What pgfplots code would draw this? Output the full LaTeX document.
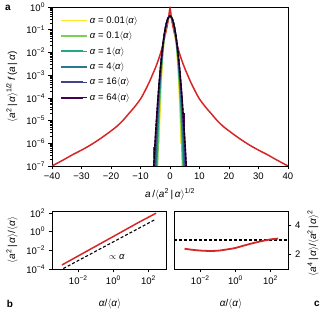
\documentclass[border=0pt]{standalone}
\usepackage{fontspec}
\setmainfont{Liberation Sans}
\usepackage{pgfplots}
\pgfplotsset{compat=1.18}
\definecolor{cY}{HTML}{FDE725}
\definecolor{cL}{HTML}{7AD151}
\definecolor{cG}{HTML}{22A884}
\definecolor{cT}{HTML}{2A788E}
\definecolor{cN}{HTML}{414487}
\definecolor{cP}{HTML}{440154}
\definecolor{cR}{HTML}{D62728}
\newcommand{\fs}{\fontsize{9.5}{11}\selectfont}
\newcommand{\fl}{\fontsize{10}{12}\selectfont}
\newcommand{\al}{\textit{α}}
\newcommand{\la}{$\langle$}
\newcommand{\ra}{$\rangle$}
\newcommand{\br}{\,|\,}
\pgfplotsset{
  mystyle/.style={scale only axis, axis line style={line width=0.8pt},
    tick align=outside, tick pos=left, major tick length=3.5pt, minor tick length=2pt,
    every tick/.style={black, line width=0.6pt},
    tick label style={font=\fs}, /pgf/number format/assume math mode=true},
}
\begin{document}
\begin{tikzpicture}
\path[use as bounding box] (0pt,0pt) rectangle (325pt,315pt);
% ---------------- panel a
\begin{axis}[mystyle, at={(52pt,149pt)}, anchor=south west, width=236pt, height=159pt,
  xmin=-40, xmax=40, ymode=log, ymin=1e-7, ymax=1,
  xtick={-40,-30,...,40}, xticklabels={−40,−30,−20,−10,0,10,20,30,40},
  ytick={1e-7,1e-6,1e-5,1e-4,1e-3,1e-2,1e-1,1},
  yticklabels={10\textsuperscript{−7},10\textsuperscript{−6},10\textsuperscript{−5},10\textsuperscript{−4},10\textsuperscript{−3},10\textsuperscript{−2},10\textsuperscript{−1},10\textsuperscript{0}},
  legend style={at={(axis description cs:0.034,0.955)}, anchor=north west, draw=none, fill=none, font=\fs, row sep=3.2pt, inner sep=0pt, cells={anchor=west}},
  legend image code/.code={\draw[#1, line width=1.8pt] (0pt,0pt) -- (22pt,0pt); \path (0pt,0pt) -- (26pt,0pt);},
  ]
\addplot[cR, line width=1.5pt, smooth, forget plot] coordinates {
(-40,1.0e-7)(-36,1.9e-7)(-33,3.16e-7)(-30,5.0e-7)(-27,8.3e-7)(-24,1.48e-6)(-21,2.8e-6)(-18,5.6e-6)(-16,1.0e-5)(-14,2.0e-5)(-12,4.0e-5)(-10,8.9e-5)(-8.5,2.0e-4)(-7,5.0e-4)(-6,1.0e-3)(-5,2.0e-3)(-4,4.47e-3)(-3,1.12e-2)(-2,3.55e-2)(-1,0.141)(-0.5,0.316)(0,0.871)
(0.5,0.316)(1,0.141)(2,3.55e-2)(3,1.12e-2)(4,4.47e-3)(5,2.0e-3)(6,1.0e-3)(7,5.0e-4)(8.5,2.0e-4)(10,8.9e-5)(12,4.0e-5)(14,2.0e-5)(16,1.0e-5)(18,5.6e-6)(21,2.8e-6)(24,1.48e-6)(27,8.3e-7)(30,5.0e-7)(33,3.16e-7)(36,1.9e-7)(40,1.0e-7)};
\addplot[cY, line width=1.5pt, smooth] coordinates {
(-3.75,9.4e-7)(-3.5,9.7e-6)(-3,3.9e-4)(-2.5,5.44e-3)(-2,0.0334)(-1.5,0.1112)(-1,0.2348)(-0.5,0.3514)(0,0.3989)(0.5,0.3514)(1,0.2348)(1.5,0.1112)(2,0.0334)(2.5,5.44e-3)(3,3.9e-4)(3.5,9.7e-6)(3.75,9.4e-7)};
\addlegendentry{\al{} = 0.01\la\al\ra}
\addplot[cL, line width=1.5pt, smooth] coordinates {
(-4.25,6.9e-8)(-4,8.0e-7)(-3.5,4.34e-5)(-3,8.77e-4)(-2.5,8.03e-3)(-2,0.0392)(-1.5,0.1171)(-1,0.2372)(-0.5,0.3517)(0,0.3989)(0.5,0.3517)(1,0.2372)(1.5,0.1171)(2,0.0392)(2.5,8.03e-3)(3,8.77e-4)(3.5,4.34e-5)(4,8.0e-7)(4.25,6.9e-8)};
\addlegendentry{\al{} = 0.1\la\al\ra}
\addplot[cG, line width=1.5pt, smooth] coordinates {
(-4.75,1.1e-8)(-4.5,1.17e-7)(-4,6.22e-6)(-3.5,1.44e-4)(-3,1.676e-3)(-2.5,0.01097)(-2,0.0446)(-1.5,0.1218)(-1,0.2391)(-0.5,0.3517)(0,0.3989)(0.5,0.3517)(1,0.2391)(1.5,0.1218)(2,0.0446)(2.5,0.01097)(3,1.676e-3)(3.5,1.44e-4)(4,6.22e-6)(4.5,1.17e-7)(4.75,1.1e-8)};
\addlegendentry{\al{} = 1\la\al\ra}
\addplot[cT, line width=1.5pt, smooth] coordinates {
(-5,1.9e-8)(-4.5,9.1e-7)(-4,2.24e-5)(-3.5,3.05e-4)(-3,2.51e-3)(-2.5,0.01335)(-2,0.0483)(-1.5,0.1250)(-1,0.2403)(-0.5,0.3517)(0,0.3989)(0.5,0.3517)(1,0.2403)(1.5,0.1250)(2,0.0483)(2.5,0.01335)(3,2.51e-3)(3.5,3.05e-4)(4,2.24e-5)(4.5,9.1e-7)(5,1.9e-8)};
\addlegendentry{\al{} = 4\la\al\ra}
\addplot[cN, line width=1.5pt, smooth] coordinates {
(-5.25,4.2e-8)(-5,2.28e-7)(-4.5,4.67e-6)(-4,6.22e-5)(-3.5,5.56e-4)(-3,3.47e-3)(-2.5,0.0156)(-2,0.0515)(-1.5,0.1276)(-1,0.2412)(-0.5,0.3517)(0,0.3989)(0.5,0.3517)(1,0.2412)(1.5,0.1276)(2,0.0515)(2.5,0.0156)(3,3.47e-3)(3.5,5.56e-4)(4,6.22e-5)(4.5,4.67e-6)(5,2.28e-7)(5.25,4.2e-8)};
\addlegendentry{\al{} = 16\la\al\ra}
\addplot[cP, line width=1.5pt, smooth] coordinates {
(-5.75,2.64e-8)(-5.5,1.08e-7)(-5.25,4.13e-7)(-5,1.49e-6)(-4.5,1.6e-5)(-4,1.34e-4)(-3.5,8.73e-4)(-3,4.43e-3)(-2.5,1.753e-2)(-2,5.40e-2)(-1.5,0.1295)(-1,0.2420)(-0.5,0.3521)(0,0.3989)(0.5,0.3521)(1,0.2420)(1.5,0.1295)(2,5.40e-2)(2.5,1.753e-2)(3,4.43e-3)(3.5,8.73e-4)(4,1.34e-4)(4.5,1.6e-5)(5,1.49e-6)(5.25,4.13e-7)(5.5,1.08e-7)(5.75,2.64e-8)};
\addlegendentry{\al{} = 64\la\al\ra}
\addplot[cP, line width=1.5pt, forget plot] coordinates {(-4.6,5e-6)(-4.6,2.6e-5)};
\addplot[cP, line width=1.5pt, forget plot] coordinates {(4.7,4e-6)(4.7,2.2e-5)};
\addplot[cN, line width=1.5pt, forget plot] coordinates {(-5.6,2.5e-7)(-5.6,7e-7)};
\addplot[black, line width=1.3pt, dash pattern=on 2.5pt off 1.6pt, forget plot] coordinates {
(-5.75,2.64e-8)(-5.5,1.077e-7)(-5.25,4.13e-7)(-5,1.487e-6)(-4.75,5.03e-6)(-4.5,1.598e-5)(-4.25,4.77e-5)(-4,1.338e-4)(-3.75,3.526e-4)(-3.5,8.727e-4)(-3.25,2.030e-3)(-3,4.432e-3)(-2.75,9.09e-3)(-2.5,0.01753)(-2.25,0.0317)(-2,0.0540)(-1.75,0.0863)(-1.5,0.1295)(-1.25,0.1826)(-1,0.2420)(-0.75,0.3011)(-0.5,0.3521)(-0.25,0.3867)(0,0.3989)
(0.25,0.3867)(0.5,0.3521)(0.75,0.3011)(1,0.2420)(1.25,0.1826)(1.5,0.1295)(1.75,0.0863)(2,0.0540)(2.25,0.0317)(2.5,0.01753)(2.75,9.09e-3)(3,4.432e-3)(3.25,2.030e-3)(3.5,8.727e-4)(3.75,3.526e-4)(4,1.338e-4)(4.25,4.77e-5)(4.5,1.598e-5)(4.75,5.03e-6)(5,1.487e-6)(5.25,4.13e-7)(5.5,1.077e-7)(5.75,2.64e-8)};
\end{axis}
% ---------------- panel b
\begin{axis}[mystyle, at={(52pt,46pt)}, anchor=south west, width=114pt, height=58pt,
  xmode=log, ymode=log, xmin=10^-3.5, xmax=1000, ymin=1e-4, ymax=158,
  xtick={1e-2,1,1e2}, xticklabels={10\textsuperscript{−2},10\textsuperscript{0},10\textsuperscript{2}},
  ytick={1e-4,1e-2,1,1e2}, yticklabels={10\textsuperscript{−4},10\textsuperscript{−2},10\textsuperscript{0},10\textsuperscript{2}},
  minor tick style={draw=none},
  ]
\addplot[cR, line width=1.5pt] coordinates {(1.17e-3,2.7e-4)(0.0316,8.3e-3)(1,0.30)(31.6,11)(275,93)};
\addplot[black, line width=1.1pt, dash pattern=on 3pt off 2pt] coordinates {(1.4e-3,1.12e-4)(1,0.08)(250,20)};
\node[font=\fs] at (axis cs:1.6,2.1e-3) {$\propto$ \al};
\end{axis}
% ---------------- panel c
\begin{axis}[mystyle, at={(174pt,46pt)}, anchor=south west, width=114pt, height=58pt,
  xmode=log, xmin=10^-3.5, xmax=1000, ymin=1, ymax=5,
  xtick={1e-2,1,1e2}, xticklabels={10\textsuperscript{−2},10\textsuperscript{0},10\textsuperscript{2}},
  ytick={2,4}, yticklabels={2,4}, ytick pos=right, yticklabel pos=right,
  minor tick style={draw=none},
  ]
\addplot[black, line width=1.1pt, dash pattern=on 3pt off 2pt] coordinates {(10^-3.5,3)(1000,3)};
\addplot[cR, line width=1.8pt, smooth] coordinates {(1.26e-3,2.40)(3.16e-3,2.33)(0.01,2.27)(0.0427,2.24)(0.1,2.26)(0.38,2.36)(1,2.45)(3.39,2.63)(10,2.78)(30.9,2.92)(100,3.04)(275,3.1)};
\end{axis}
% ---------------- labels
\node[font=\fl, rotate=90] at (12pt,228pt) {\la\textit{a}\textsuperscript{2}\br\al\ra\textsuperscript{1/2}\,\textit{f}\,(\textit{a}\br\al)};
\node[font=\fl] at (170pt,121pt) {\textit{a}\,/\la\textit{a}\textsuperscript{2}\br\al\ra\textsuperscript{1/2}};
\node[font=\fl, rotate=90] at (12pt,75pt) {\la\textit{a}\textsuperscript{2}\br\al\ra/\la\al\ra};
\node[font=\fl] at (110pt,11pt) {\al/\la\al\ra};
\node[font=\fl] at (231pt,11pt) {\al/\la\al\ra};
\node[font=\fl, rotate=90] at (313pt,72pt) {\la\textit{a}\textsuperscript{4}\br\al\ra/\la\textit{a}\textsuperscript{2}\br\al\ra\textsuperscript{2}};
\node[font=\fl\bfseries] at (8pt,307pt) {a};
\node[font=\fl\bfseries] at (10pt,11pt) {b};
\node[font=\fl\bfseries] at (317pt,11pt) {c};
\end{tikzpicture}
\end{document}
